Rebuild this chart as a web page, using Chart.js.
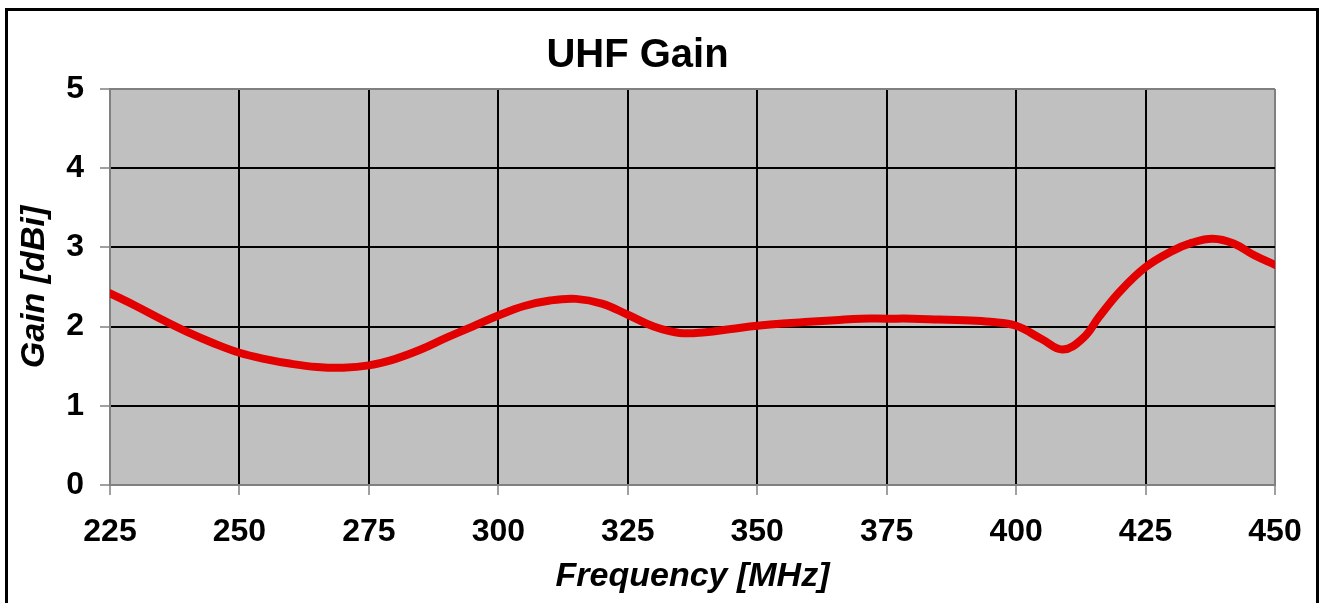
<!DOCTYPE html>
<html>
<head>
<meta charset="utf-8">
<script src="https://cdn.jsdelivr.net/npm/chart.js@4"></script>
<style>
  html, body { margin: 0; padding: 0; background: #ffffff; }
  #wrap { position: relative; width: 1321px; height: 603px; }
  canvas { display: block; }
</style>
</head>
<body>
<div id="wrap"><canvas id="c" width="1321" height="603"></canvas></div>
<script>
// ---- Data ----
const chartTitle = "UHF Gain";
const xAxisTitle = "Frequency [MHz]";
const yAxisTitle = "Gain [dBi]";
const frequencies = [225, 230, 235, 240, 245, 250, 255, 260, 265, 270, 275, 280, 285, 290, 295, 300, 305, 310, 315, 320, 325, 330, 335, 340, 345, 350, 355, 360, 365, 370, 375, 380, 385, 390, 395, 400, 405, 409, 413, 416, 420, 425, 430, 434, 438, 442, 446, 450];
const gains = [2.42, 2.26, 2.09, 1.93, 1.79, 1.67, 1.59, 1.53, 1.49, 1.48, 1.51, 1.59, 1.71, 1.86, 2.00, 2.14, 2.26, 2.33, 2.35, 2.29, 2.15, 2.00, 1.92, 1.93, 1.97, 2.01, 2.04, 2.06, 2.08, 2.10, 2.10, 2.10, 2.09, 2.08, 2.06, 2.01, 1.84, 1.71, 1.86, 2.12, 2.44, 2.75, 2.95, 3.06, 3.11, 3.05, 2.90, 2.78];
const xTicks = [225, 250, 275, 300, 325, 350, 375, 400, 425, 450];
const yTicks = [0, 1, 2, 3, 4, 5];

const points = frequencies.map((f, i) => ({ x: f, y: gains[i] }));
const FONT = "'Liberation Sans', Arial, sans-serif";

const plotBg = {
  id: 'plotBg',
  beforeDraw(chart) {
    const { ctx, chartArea: a } = chart;
    ctx.save();
    ctx.fillStyle = '#c0c0c0';
    ctx.fillRect(a.left, a.top, a.right - a.left, a.bottom - a.top);
    ctx.restore();
  },
  afterDraw(chart) {
    const { ctx } = chart;
    ctx.save();
    ctx.strokeStyle = '#000000';
    ctx.lineWidth = 3;
    ctx.strokeRect(6.5, 9.5, 1311, 620);
    ctx.restore();
  }
};

new Chart(document.getElementById('c'), {
  type: 'line',
  data: {
    datasets: [{
      data: points,
      borderColor: '#e20000',
      borderWidth: 8,
      pointRadius: 0,
      fill: false,
      tension: 0.4,
      borderCapStyle: 'round',
      borderJoinStyle: 'round'
    }]
  },
  options: {
    responsive: false,
    animation: false,
    devicePixelRatio: 1,
    layout: { padding: { left: 0, right: 46, top: 0, bottom: 0 } },
    plugins: {
      legend: { display: false },
      tooltip: { enabled: false },
      title: {
        display: true,
        text: chartTitle,
        color: '#000000',
        font: { family: FONT, size: 40, weight: 'bold', lineHeight: 1.2 },
        padding: { top: 32, bottom: 9 }
      }
    },
    scales: {
      x: {
        type: 'linear',
        min: 225, max: 450,
        afterFit: s => { s.height = 118; },
        afterBuildTicks: s => { s.ticks = xTicks.map(v => ({ value: v })); },
        ticks: {
          color: '#000000',
          font: { family: FONT, size: 32, weight: 'bold' },
          padding: 18,
          maxRotation: 0,
          autoSkip: false
        },
        grid: {
          color: ctx => (ctx.tick && (ctx.tick.value === 225 || ctx.tick.value === 450)) ? '#808080' : '#000000',
          lineWidth: 2,
          tickLength: 10,
          tickColor: '#a0a0a0',
          drawTicks: true
        },
        border: { color: '#808080', width: 2 },
        title: {
          display: true,
          text: xAxisTitle,
          color: '#000000',
          font: { family: FONT, size: 34, weight: 'bold', style: 'italic', lineHeight: 1.2 },
          padding: { top: 0, bottom: 6 }
        }
      },
      y: {
        min: 0, max: 5,
        afterFit: s => { s.width = 110; },
        afterBuildTicks: s => { s.ticks = yTicks.map(v => ({ value: v })); },
        ticks: {
          color: '#000000',
          font: { family: FONT, size: 32, weight: 'bold' },
          padding: 16
        },
        grid: {
          color: ctx => (ctx.tick && (ctx.tick.value === 0 || ctx.tick.value === 5)) ? '#808080' : '#000000',
          lineWidth: 2,
          tickLength: 10,
          tickColor: '#a0a0a0'
        },
        border: { color: '#808080', width: 2 },
        title: {
          display: true,
          text: yAxisTitle,
          color: '#000000',
          font: { family: FONT, size: 34, weight: 'bold', style: 'italic', lineHeight: 1.2 },
          padding: { top: 14, bottom: 0 }
        }
      }
    }
  },
  plugins: [plotBg]
});
</script>
</body>
</html>
